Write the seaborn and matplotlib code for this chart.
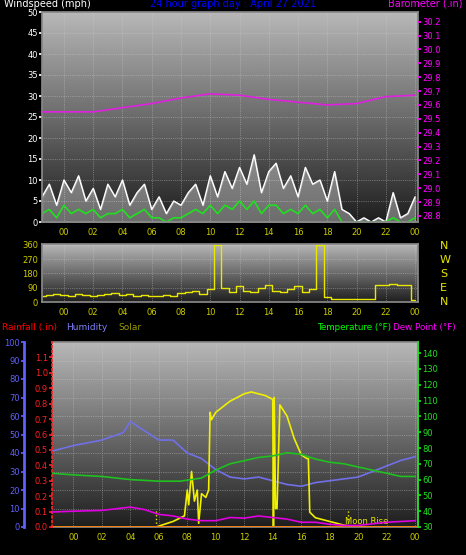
import numpy as np
import matplotlib
matplotlib.use("Agg")
import matplotlib.pyplot as plt
import seaborn as sns

sns.set_theme(style="dark")
plt.rcParams['font.family'] = ['DejaVu Sans']

hours = np.arange(-1.5, 24.01, 0.5)
gust = [6,9,4,10,7,11,5,8,3,9,6,10,4,7,9,3,6,2,5,4,7,9,4,11,6,12,8,13,9,16,7,12,14,8,11,6,13,9,10,5,12,3,2,0,1,0,1,0,7,1,2,6]
avg = [2,3,1,4,2,3,2,3,1,2,2,3,1,2,3,1,1,0,1,1,2,3,2,4,2,4,3,5,3,5,2,4,4,2,3,2,4,2,3,1,3,0,0,0,0,0,0,0,1,0,0,1]
direction = [40,45,50,45,40,50,45,40,45,50,55,45,50,40,45,40,35,45,40,55,60,70,50,80,360,90,60,100,70,60,90,110,70,60,80,100,60,80,360,30,20,20,20,20,20,20,110,110,115,105,110,10]
baro_h = [-1.5, 0, 2, 4, 6, 8, 10, 12, 14, 16, 18, 20, 22, 24]
baro = [29.55, 29.55, 29.55, 29.58, 29.61, 29.65, 29.68, 29.67, 29.64, 29.62, 29.60, 29.61, 29.66, 29.67]

hum_h = [-1.5, 0, 2, 3.5, 4, 5, 6, 7, 8, 9, 10, 11, 12, 13, 14, 15, 16, 17, 18, 19, 20, 21, 22, 23, 24]
hum = [41, 44, 47, 51, 57, 52, 47, 47, 40, 37, 31, 27, 26, 27, 25, 23, 22, 24, 25, 26, 27, 30, 33, 36, 38]
temp_h = [-1.5, 0, 2, 4, 6, 7.5, 9, 10, 11, 12, 13, 14, 15, 16, 17, 18, 19, 20, 21, 22, 23, 24]
temp = [64, 63, 62, 60, 59, 59, 61, 66, 70, 72, 74, 75, 77, 76, 73, 71, 70, 68, 66, 64, 62, 62]
dew_h = [-1.5, 0, 2, 4, 5, 6, 7, 8, 9, 10, 11, 12, 13, 14, 15, 16, 17, 18, 19, 20, 21, 22, 23, 24]
dew = [39.5, 40, 40.5, 42.6, 41, 38, 37, 35, 34, 34, 36, 35.6, 37, 36, 35, 33, 33, 31.7, 31, 31, 32, 33, 33.5, 34]
sol_h = [-1.5, 5.8, 7, 7.8, 8.0, 8.1, 8.3, 8.5, 8.7, 8.8, 9.0, 9.3, 9.5, 9.6, 9.7, 10, 11, 12, 12.5, 13, 13.5, 14.0, 14.05, 14.1, 14.2, 14.3, 14.5, 15, 15.5, 16, 16.4, 16.5, 16.6, 17, 17.5, 18, 19, 20, 24]
sol = [0, 0, 3, 6, 20, 12, 30, 14, 20, 2, 18, 16, 20, 62, 58, 62, 68, 72, 73, 72, 71, 69, 0, 70, 10, 10, 66, 60, 48, 39, 37, 37, 8, 5, 4, 3, 1, 0, 0]

xt = list(range(0, 25, 2))
xl = ["%02d" % (h % 24) for h in xt]
W, H = 466, 555
fig = plt.figure(figsize=(W/100, H/100), dpi=100, facecolor='black')

def box(l, t, r, b):
    return [l/W, 1-b/H, (r-l)/W, (b-t)/H]

def bg(ax):
    grad = np.linspace(0.72, 0.12, 256).reshape(-1, 1)
    ax.imshow(grad, extent=[0, 1, 0, 1], transform=ax.transAxes, aspect='auto',
              cmap='gray', vmin=0, vmax=1, zorder=0)
    ax.grid(True, color='#d0d0d0', lw=0.5, ls=':', alpha=0.7)
    for s in ax.spines.values():
        s.set_color('#888888')
    ax.set_xlim(-1.5, 24.2)
    ax.set_xticks(xt)
    ax.set_xticklabels(xl)
    ax.tick_params(axis='x', colors='#cccc00', labelsize=6, length=2, pad=2)
    ax.set_facecolor('black')

# Top panel
ax1 = fig.add_axes(box(42, 12, 418, 222))
bg(ax1)
sns.lineplot(x=hours, y=gust, ax=ax1, color='white', lw=1.0)
ax1.fill_between(hours, gust, color='white', alpha=0.35)
sns.lineplot(x=hours, y=avg, ax=ax1, color='#20e020', lw=1.2)
ax1.set_ylim(0, 50)
ax1.set_yticks(range(0, 51, 5))
ax1.tick_params(axis='y', colors='white', labelsize=6, length=2, pad=1)
ax1b = ax1.twinx()
sns.lineplot(x=baro_h, y=baro, ax=ax1b, color='#e020e0', lw=1.2)
ax1b.set_ylim(28.756, 30.27)
ax1b.set_yticks(np.round(np.arange(28.8, 30.21, 0.1), 1))
ax1b.tick_params(axis='y', colors='#ff00ff', labelsize=6, length=2, pad=1)
ax1b.grid(False)
for s in ax1b.spines.values():
    s.set_visible(False)
fig.text(4/W, 1-9/H, "Windspeed (mph)", color='white', fontsize=7, va='bottom')
fig.text(233/W, 1-9/H, "24 hour graph day : April 27 2021", color='#0000ff', fontsize=7, va='bottom', ha='center')
fig.text(462/W, 1-9/H, "Barometer (.in)", color='#ff00ff', fontsize=7, va='bottom', ha='right')

# Middle panel
ax2 = fig.add_axes(box(42, 244, 418, 302))
bg(ax2)
ax2.step(hours, direction, where='mid', color='#e8e800', lw=1.0)
ax2.set_ylim(0, 365)
ax2.set_yticks([0, 90, 180, 270, 360])
ax2.tick_params(axis='y', colors='#cccc00', labelsize=6, length=2, pad=1)
for i, lab in enumerate("NWSEN"):
    fig.text(440/W, 1-(246+i*14)/H, lab, color='#e8e800', fontsize=8, va='center')

# Bottom panel
ax3 = fig.add_axes(box(52, 342, 418, 527))
bg(ax3)
ax3.set_ylim(0, 100)
sns.lineplot(x=hum_h, y=hum, ax=ax3, color='#7070e8', lw=1.2)
sns.lineplot(x=sol_h, y=sol, ax=ax3, color='#f0f000', lw=1.2)
ax3.set_yticks(range(0, 101, 10))
ax3.spines['left'].set_position(('outward', 20))
ax3.spines['left'].set_color('#6060ff')
ax3.spines['left'].set_linewidth(2)
ax3.tick_params(axis='y', colors='#6060ff', labelsize=6, length=2, pad=1)
ax3.axvline(5.8, ymax=0.1, color='#e8e800', ls=':', lw=1)
ax3.axvline(19.3, ymax=0.1, color='#e8e800', ls=':', lw=1)
ax3.text(19.1, 0.5, "Moon Rise", color='#e8e800', fontsize=6, va='bottom')
rain = ax3.twinx()
rain.yaxis.set_ticks_position('left')
rain.spines['left'].set_visible(True)
rain.spines['left'].set_color('#ff2020')
rain.spines['left'].set_linestyle(':')
rain.set_ylim(0, 1.2)
rain.set_yticks(np.round(np.arange(0, 1.11, 0.1), 1))
rain.tick_params(axis='y', colors='#ff2020', labelsize=6, length=2, pad=1, labelleft=True, labelright=False)
rain.plot([-1.5, 24.2], [0.0, 0.0], color='#ff8000', lw=2)
rain.grid(False)
for s in ['right', 'top', 'bottom']:
    rain.spines[s].set_visible(False)
tax = ax3.twinx()
sns.lineplot(x=temp_h, y=temp, ax=tax, color='#20c020', lw=1.2)
sns.lineplot(x=dew_h, y=dew, ax=tax, color='#e000e0', lw=1.2)
tax.set_ylim(30, 30 + 185/1.58)
tax.set_yticks(range(30, 141, 10))
tax.tick_params(axis='y', colors='#20e020', labelsize=6, length=2, pad=1)
tax.spines['right'].set_color('#20e020')
tax.grid(False)
for s in ['left', 'top', 'bottom']:
    tax.spines[s].set_visible(False)
for a in (ax1, ax1b, ax2, ax3, rain, tax):
    a.set_xlabel(''); a.set_ylabel('')
yT = 1-332/H
fig.text(2/W, yT, "Rainfall (.in)", color='#ff0000', fontsize=6.5, va='bottom')
fig.text(66/W, yT, "Humidity", color='#8080ff', fontsize=6.5, va='bottom')
fig.text(118/W, yT, "Solar", color='#999900', fontsize=6.5, va='bottom')
fig.text(391/W, yT, "Temperature (°F)", color='#00ff00', fontsize=6.3, va='bottom', ha='right')
fig.text(393/W, yT, "Dew Point (°F)", color='#ff00ff', fontsize=6.3, va='bottom')

fig.savefig("out.png", dpi=100, facecolor='black')
